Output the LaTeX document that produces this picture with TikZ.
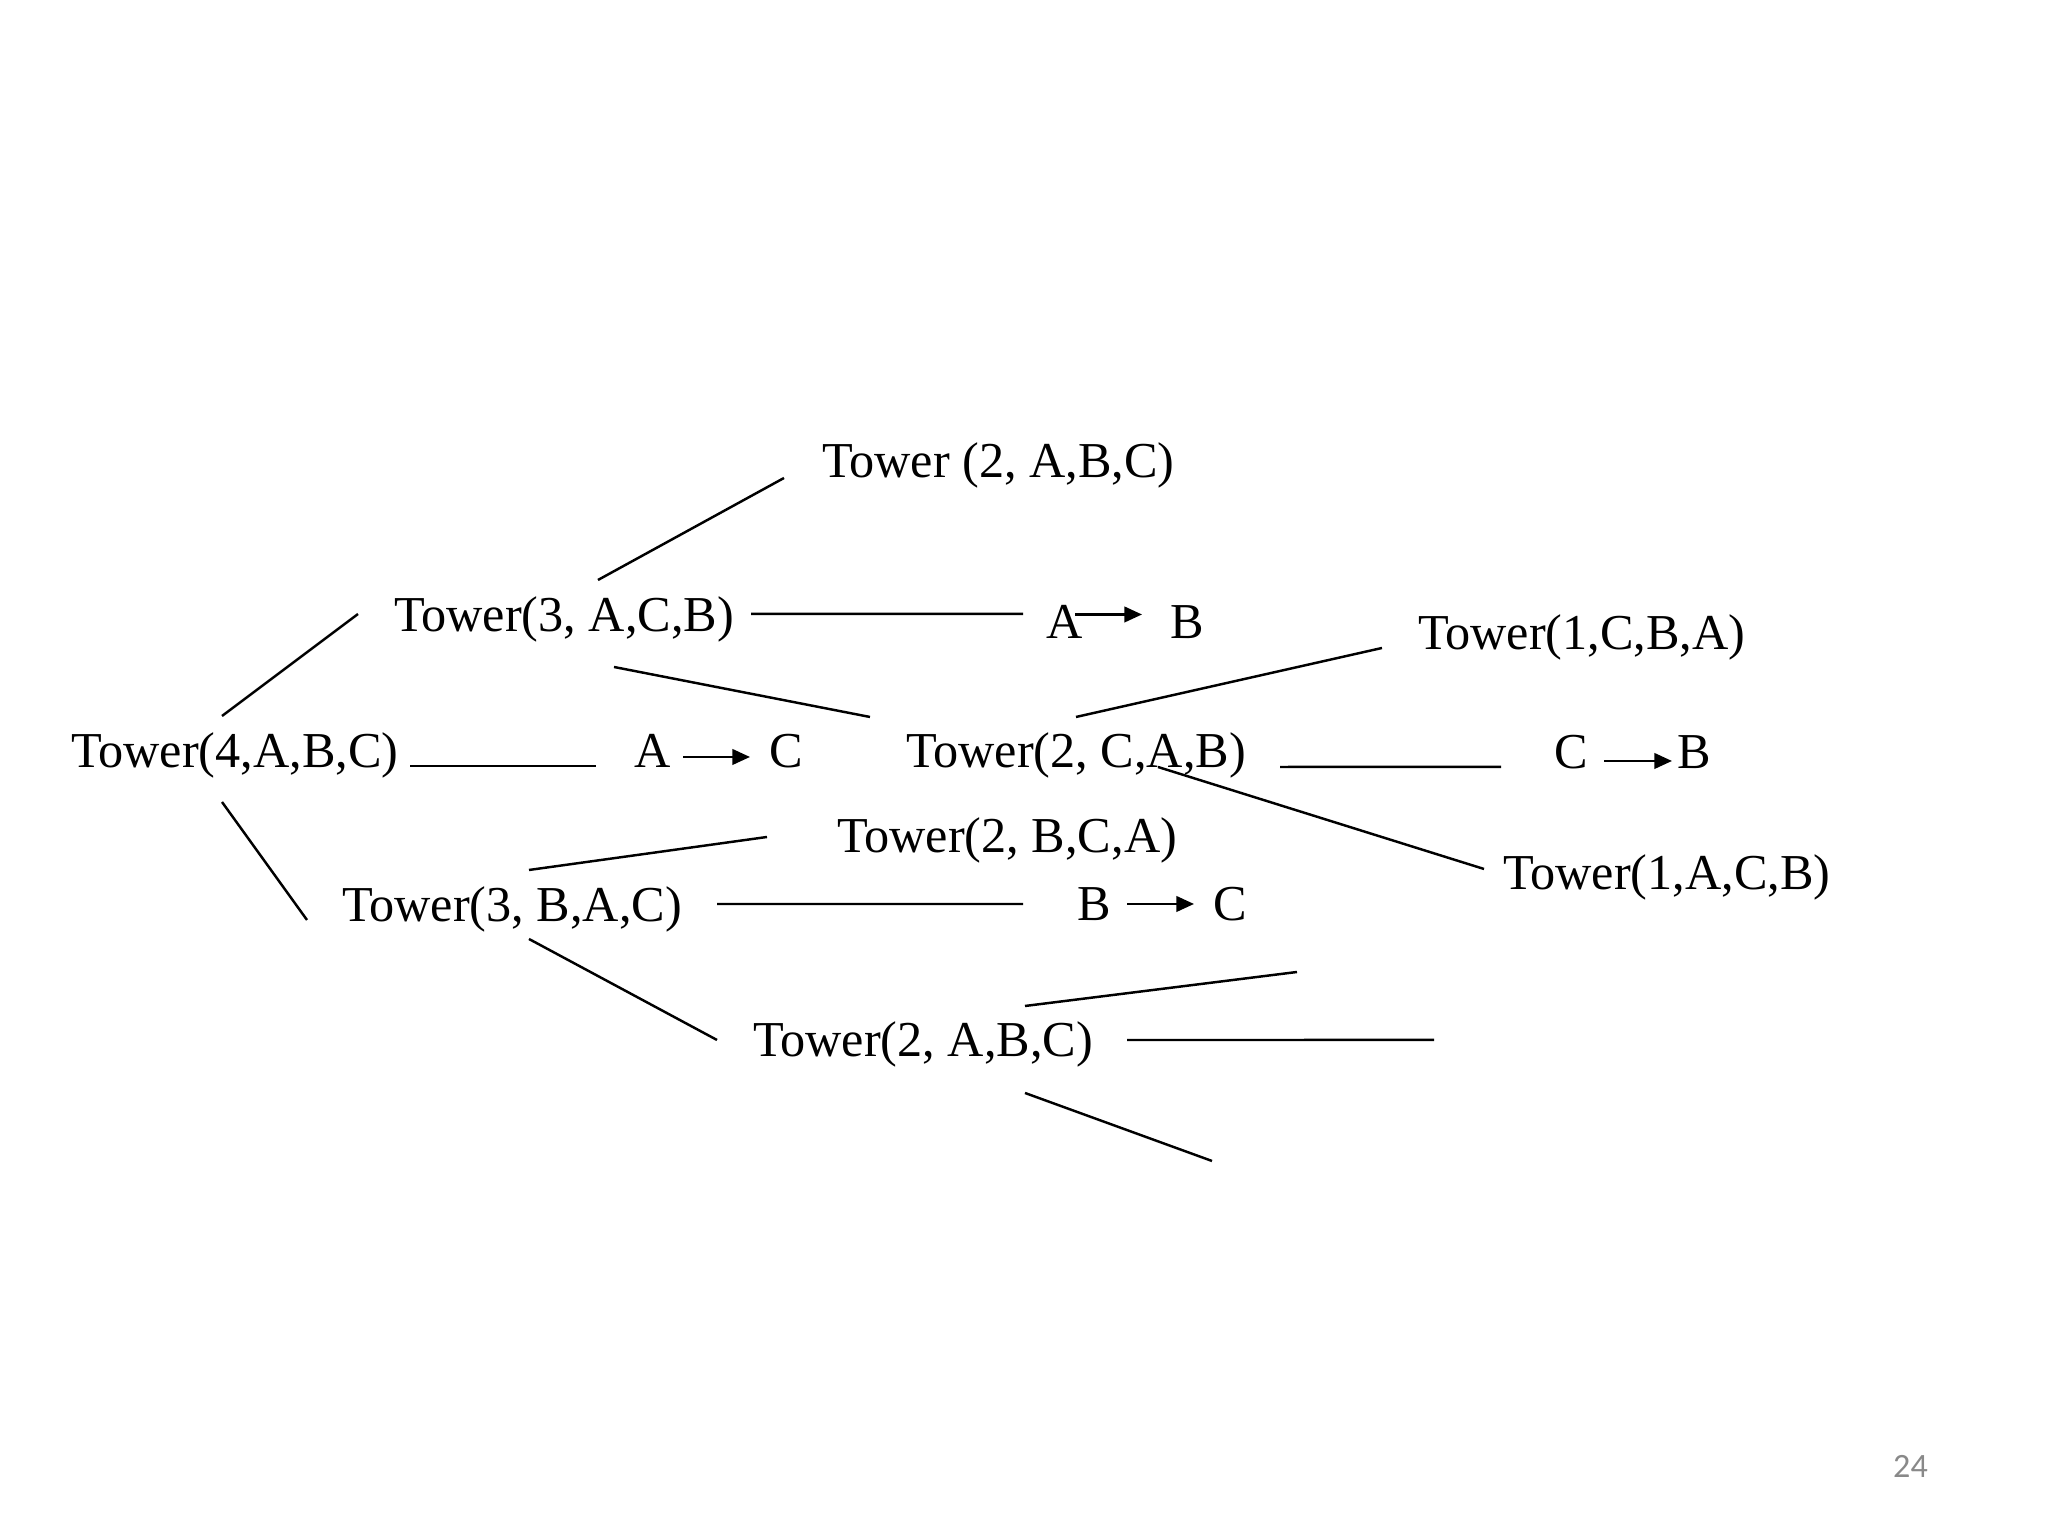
\documentclass[tikz,border=0pt]{standalone}
\usepackage{fontspec}
\setmainfont{Liberation Serif}
\newfontfamily\slidefont{Carlito}
\usetikzlibrary{arrows.meta}
\definecolor{pagegray}{RGB}{137,137,137}

\begin{document}
\begin{tikzpicture}[line width=0.7pt,
	call/.style={inner sep=0pt,anchor=base west,font=\fontsize{14.3}{16}\selectfont},
	mv/.style={-{Triangle[length=5pt,width=4.4pt]}}]
			\useasboundingbox (0,0) rectangle (20.48,15.36);
			% calls
			\node[call] (t4) at (0.70,7.68) {Tower(4,A,B,C)};
			\node[call] (t3acb) at (3.93,9.04) {Tower(3, A,C,B)};
			\node[call] (t3bac) at (3.41,6.14) {Tower(3, B,A,C)};
			\node[call] (t2abc) at (8.21,10.58) {Tower (2, A,B,C)};
			\node[call] (t2cab) at (9.05,7.68) {Tower(2, C,A,B)};
			\node[call] (t2bca) at (8.36,6.83) {Tower(2, B,C,A)};
			\node[call] (t2abcb) at (7.52,4.79) {Tower(2, A,B,C)};
			\node[call] (t1cba) at (14.17,8.86) {Tower(1,C,B,A)};
			\node[call] (t1acb) at (15.02,6.46) {Tower(1,A,C,B)};
			% moves
			\node[call] (ma1) at (6.33,7.68) {A};
			\node[call] (mc1) at (7.68,7.68) {C};
			\node[call] (ma2) at (10.45,8.97) {A};
			\node[call] (mb2) at (11.69,8.97) {B};
			\node[call] (mc3) at (15.53,7.67) {C};
			\node[call] (mb3) at (16.76,7.67) {B};
			\node[call] (mb4) at (10.76,6.15) {B};
			\node[call] (mc4) at (12.12,6.15) {C};
			\draw[mv] ([shift={(0.50,0.11)}]ma1.base west) -- ([shift={(-0.18,0.11)}]mc1.base west);
			\draw[mv] ([shift={(0.30,0.245)}]ma2.base west) -- ([shift={(-0.27,0.245)}]mb2.base west);
			\draw[mv] ([shift={(0.51,0.08)}]mc3.base west) -- ([shift={(-0.04,0.08)}]mb3.base west);
			\draw[mv] ([shift={(0.51,0.17)}]mb4.base west) -- ([shift={(-0.18,0.17)}]mc4.base west);
			% tree lines
			\draw ([shift={(1.52,0.52)}]t4.base west) -- ([shift={(-0.35,0.18)}]t3acb.base west);
			\draw ([shift={(3.40,0.02)}]t4.base west) -- ([shift={(-0.37,0.02)}]ma1.base west);
			\draw ([shift={(1.52,-0.34)}]t4.base west) -- ([shift={(-0.34,0.02)}]t3bac.base west);
			\draw ([shift={(2.05,0.52)}]t3acb.base west) -- ([shift={(-0.37,0)}]t2abc.base west);
			\draw ([shift={(3.58,0.18)}]t3acb.base west) -- ([shift={(-0.22,0.25)}]ma2.base west);
			\draw ([shift={(2.21,-0.35)}]t3acb.base west) -- ([shift={(-0.35,0.51)}]t2cab.base west);
			\draw ([shift={(1.71,0.51)}]t2cab.base west) -- ([shift={(-0.35,0.02)}]t1cba.base west);
			\draw ([shift={(3.75,0.01)}]t2cab.base west) -- ([shift={(-0.52,0.02)}]mc3.base west);
			\draw ([shift={(2.53,0.01)}]t2cab.base west) -- ([shift={(-0.18,0.21)}]t1acb.base west);
			\draw ([shift={(1.88,0.52)}]t3bac.base west) -- ([shift={(-0.69,0.16)}]t2bca.base west);
			\draw ([shift={(3.76,0.18)}]t3bac.base west) -- ([shift={(-0.53,0.17)}]mb4.base west);
			\draw ([shift={(1.88,-0.17)}]t3bac.base west) -- ([shift={(-0.35,0.17)}]t2abcb.base west);
			% open ends
			\coordinate (e1) at (12.97,5.64);
			\coordinate (e2) at (14.34,4.96);
			\coordinate (e3) at (12.12,3.75);
			\draw ([shift={(2.73,0.51)}]t2abcb.base west) -- (e1);
			\draw ([shift={(3.75,0.17)}]t2abcb.base west) -- (e2);
			\draw ([shift={(2.73,-0.36)}]t2abcb.base west) -- (e3);
			\node[inner sep=0pt,anchor=base west,pagegray,font=\slidefont\fontsize{9.7}{12}\selectfont] (pg) at (18.92,0.58) {24};
		\end{tikzpicture}
\end{document}
